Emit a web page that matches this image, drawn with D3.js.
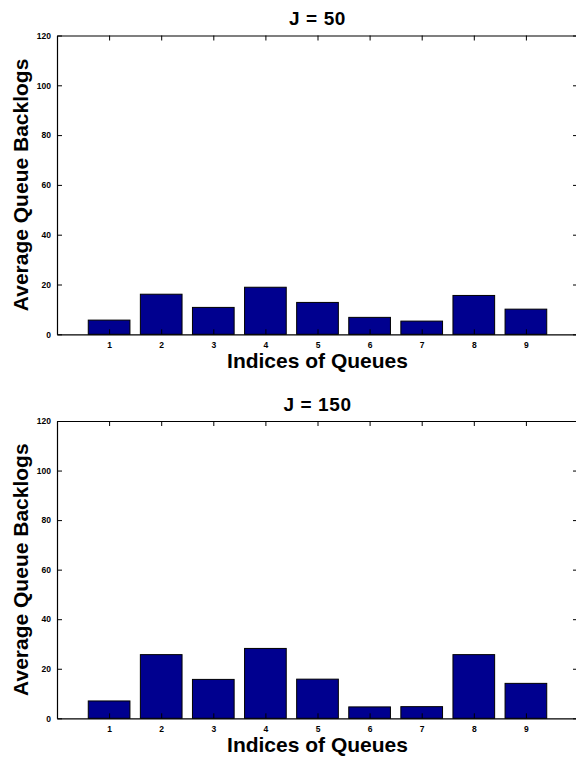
<!DOCTYPE html>
<html>
<head>
<meta charset="utf-8">
<script src="https://cdn.jsdelivr.net/npm/d3@7"></script>
<style>
  body { margin: 0; background: #fff; }
  svg text { font-family: "Liberation Sans", Arial, Helvetica, sans-serif; font-weight: bold; }
</style>
</head>
<body>
<div id="my_dataviz"></div>
<script>
// data
const queues = [1, 2, 3, 4, 5, 6, 7, 8, 9];
const backlogJ50 = [5.7, 16.1, 10.8, 18.9, 12.8, 6.8, 5.3, 15.6, 10.1];
const backlogJ150 = [7.0, 25.7, 15.7, 28.2, 15.8, 4.6, 4.7, 25.7, 14.1];
const yTicks = [0, 20, 40, 60, 80, 100, 120];
const titles = ["J = 50", "J = 150"];

const W = 576, H = 758;
const left = 57, right = 578;

const svg = d3.select("#my_dataviz")
  .append("svg")
  .attr("width", W)
  .attr("height", H);

// x scale shared by both panels
const x = d3.scaleLinear()
  .domain([0, 10])
  .range([left, right]);

function drawPanel(title, values, top, bottom) {
  const g = svg.append("g");

  const y = d3.scaleLinear()
    .domain([0, 120])
    .range([bottom, top]);

  // bars
  g.selectAll("rect")
    .data(values)
    .join("rect")
    .attr("x", (d, i) => x(queues[i] - 0.4))
    .attr("y", d => y(d))
    .attr("width", x(0.8) - x(0))
    .attr("height", d => y(0) - y(d))
    .attr("fill", "#00008f")
    .attr("stroke", "#000")
    .attr("stroke-width", 1);

  // bottom axis
  const xa = g.append("g")
    .attr("transform", `translate(0,${bottom})`)
    .call(d3.axisBottom(x).tickValues(queues).tickSize(-5).tickSizeOuter(0).tickPadding(8));
  // top axis
  g.append("g")
    .attr("transform", `translate(0,${top})`)
    .call(d3.axisTop(x).tickValues(queues).tickSize(-5).tickSizeOuter(0).tickFormat(""));
  // left axis
  const ya = g.append("g")
    .attr("transform", `translate(${left},0)`)
    .call(d3.axisLeft(y).tickValues(yTicks).tickSize(-5).tickSizeOuter(0).tickPadding(6));
  // right axis
  g.append("g")
    .attr("transform", `translate(${right},0)`)
    .call(d3.axisRight(y).tickValues(yTicks).tickSize(-5).tickSizeOuter(0).tickFormat(""));

  g.selectAll(".domain").attr("stroke", "#000").attr("stroke-width", 1.2);
  g.selectAll(".tick line").attr("stroke", "#000");
  [xa, ya].forEach(a => a.selectAll("text")
    .attr("font-size", "8.5px")
    .attr("font-family", "Liberation Sans, Arial, sans-serif")
    .attr("font-weight", "bold")
    .attr("fill", "#000"));

  // title
  g.append("text")
    .attr("x", (left + right) / 2)
    .attr("y", top - 10.5)
    .attr("text-anchor", "middle")
    .attr("font-size", "19px")
    .attr("letter-spacing", "0.6px")
    .text(title);

  // x label
  g.append("text")
    .attr("x", (left + right) / 2)
    .attr("y", bottom + 34)
    .attr("text-anchor", "middle")
    .attr("font-size", "21px")
    .text("Indices of Queues");

  // y label
  g.append("text")
    .attr("transform", `translate(28,${(top + bottom) / 2}) rotate(-90)`)
    .attr("text-anchor", "middle")
    .attr("font-size", "21px")
    .text("Average Queue Backlogs");
}

drawPanel(titles[0], backlogJ50, 35.5, 334.3);
drawPanel(titles[1], backlogJ150, 421, 718.3);
</script>
</body>
</html>
